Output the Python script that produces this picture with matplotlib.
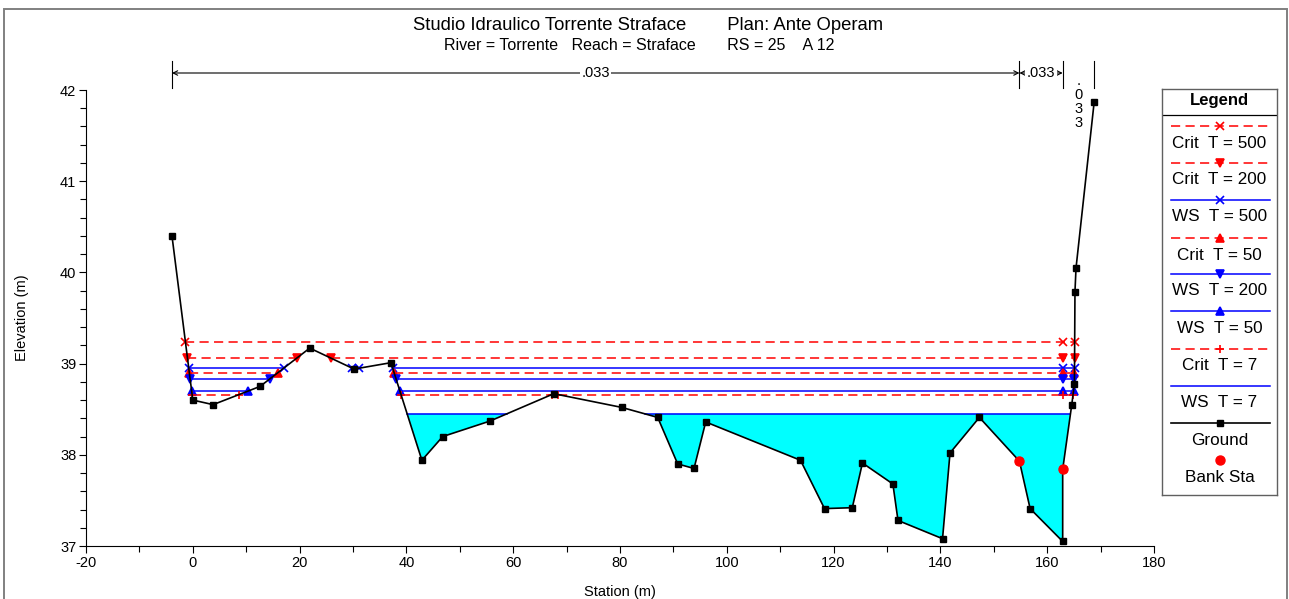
import matplotlib
matplotlib.use("Agg")
import matplotlib.pyplot as plt
from matplotlib.transforms import blended_transform_factory
from matplotlib.patches import Rectangle

# ---------------- data ----------------
station = [-3.9, 0.0, 3.8, 12.6, 21.9, 30.2, 37.1, 42.9, 46.8, 55.65, 67.6, 80.3,
           87.06, 90.8, 93.86, 96.05, 113.8, 118.3, 123.5, 125.4, 131.1, 132.06,
           140.4, 141.8, 147.3, 154.8, 156.8, 162.9, 162.9, 164.6, 165.1, 165.2,
           165.4, 168.8]
elevation = [40.40, 38.60, 38.55, 38.75, 39.17, 38.94, 39.01, 37.94, 38.20, 38.37,
             38.67, 38.52, 38.41, 37.90, 37.85, 38.36, 37.94, 37.41, 37.42, 37.91,
             37.68, 37.28, 37.08, 38.02, 38.41, 37.93, 37.41, 37.05, 37.84, 38.55,
             38.78, 39.79, 40.05, 41.87]
bank_station = [154.8, 162.9]
bank_elevation = [37.93, 37.84]

profile_names = ["Crit  T = 500", "Crit  T = 200", "WS  T = 500", "Crit  T = 50",
                 "WS  T = 200", "WS  T = 50", "Crit  T = 7", "WS  T = 7"]
profile_levels = [39.24, 39.06, 38.95, 38.90, 38.83, 38.70, 38.66, 38.45]

n_stations = [-3.9, 154.8, 162.9, 168.8]
n_values = [".033", ".033", ".033"]

title_text = "Studio Idraulico Torrente Straface        Plan: Ante Operam"
subtitle_text = "River = Torrente   Reach = Straface       RS = 25    A 12"

# ---------------- styles ----------------
RED, BLUE = "#ff0000", "#0000ff"
prof_color = [RED, RED, BLUE, RED, BLUE, BLUE, RED, BLUE]
prof_dashed = [True, True, False, True, False, False, True, False]
prof_marker = ["x", "v", "x", "^", "v", "^", "+", None]

FONT = "Liberation Sans"
plt.rcParams["font.family"] = [FONT, "DejaVu Sans"]
plt.rcParams["axes.unicode_minus"] = False

W, H = 1289, 599
fig = plt.figure(figsize=(W / 100, H / 100), dpi=100)
fig.patch.set_facecolor("white")


def fx(px):
    return px / W


def fy(py):
    return 1 - py / H


ax = fig.add_axes([fx(86), fy(546), fx(1154) - fx(86), fy(90) - fy(546)])
ax.set_xlim(-20, 180)
ax.set_ylim(37, 42)


def wet_spans(xs, ys, level):
    spans = []
    start = None
    for i in range(len(xs) - 1):
        x0, y0, x1, y1 = xs[i], ys[i], xs[i + 1], ys[i + 1]
        if y0 >= level and y1 < level:
            start = x0 + (level - y0) / (y1 - y0) * (x1 - x0)
        elif y0 < level and y1 >= level:
            end = x0 + (level - y0) / (y1 - y0) * (x1 - x0)
            spans.append((start, end))
            start = None
    return spans


# water fill for the lowest WS profile
ws_low = profile_levels[-1]
ax.fill_between(station, elevation, ws_low,
                where=[e < ws_low for e in elevation], interpolate=True,
                color="#00ffff", lw=0, zorder=1)

dash = (0, (6.0, 3.5))
for name, lev, col, dsh, mk in zip(profile_names, profile_levels, prof_color,
                                   prof_dashed, prof_marker):
    spans = wet_spans(station, elevation, lev)
    for s, e in spans:
        ax.plot([s, e], [lev, lev], color=col, lw=1.1,
                ls=dash if dsh else "-", zorder=3 if dsh else 2)
        if mk is not None:
            mx = [s, e] + [b for b in bank_station[1:] if s < b < e]
            ax.plot(mx, [lev] * len(mx), ls="none", marker=mk, color=col,
                    ms=5.5, mew=1.2, zorder=4)

ax.plot(station, elevation, color="black", lw=1.2, marker="s", ms=5,
        zorder=5)
ax.plot(bank_station, bank_elevation, ls="none", marker="o", color=RED,
        ms=6.5, zorder=6)

# axes style
for sp in ["top", "right"]:
    ax.spines[sp].set_visible(False)
ax.set_xticks(range(-20, 181, 20))
ax.set_xticks(range(-20, 181, 10), minor=True)
ax.set_yticks(range(37, 43))
ax.set_yticks([37 + 0.2 * i for i in range(26)], minor=True)
ax.tick_params(which="major", direction="out", length=5, width=0.8,
               labelsize=10.5, pad=2)
ax.tick_params(which="minor", direction="out", length=4, width=0.8)
ax.set_xlabel("Station (m)", fontsize=10.5, labelpad=11)
ax.set_ylabel("Elevation (m)", fontsize=10.5, labelpad=22)

# Manning's n annotations above plot
tr = blended_transform_factory(ax.transData, ax.transAxes)
y_top = (546 - 61) / 456
y_bot = (546 - 88) / 456
y_arr = (546 - 73) / 456
for xs in n_stations:
    ax.plot([xs, xs], [y_bot, y_top], transform=tr, color="black", lw=0.8,
            clip_on=False)
for i, val in enumerate(n_values):
    a, b = n_stations[i], n_stations[i + 1]
    mid = (a + b) / 2
    if b - a > 7:
        ax.annotate("", xy=(b, y_arr), xytext=(a, y_arr), xycoords=tr,
                    textcoords=tr,
                    arrowprops=dict(arrowstyle="<->", lw=0.8, color="black",
                                    shrinkA=0, shrinkB=0,
                                    mutation_scale=8))
        ax.text(mid, y_arr, val, transform=tr, ha="center", va="center",
                fontsize=10.5, bbox=dict(boxstyle="square,pad=0.1", fc="white",
                                         ec="none"), clip_on=False)
    else:
        ax.text(mid, (546 - 74) / 456, "\n".join(val), transform=tr,
                ha="center", va="top", fontsize=10.5, linespacing=1.0,
                clip_on=False)

# titles
fig.text(fx(648), fy(26), title_text, ha="center", va="center", fontsize=13.3)
fig.text(fx(639), fy(46), subtitle_text, ha="center", va="center", fontsize=11.5)

# ---------------- legend ----------------
lax = fig.add_axes([fx(1162), fy(495), fx(1277) - fx(1162), fy(89) - fy(495)])
lax.set_xlim(0, 115)
lax.set_ylim(406, 0)
lax.set_xticks([])
lax.set_yticks([])
for sp in lax.spines.values():
    sp.set_color("#606060")
    sp.set_linewidth(1.0)
lax.text(57.5, 11, "Legend", ha="center", va="center", fontsize=12,
         fontweight="bold")
lax.plot([0, 115], [26, 26], color="black", lw=0.9)
line_y = [36.7, 73.7, 111, 149.3, 185.3, 221.7, 260.3, 297]
text_y = [54, 91, 127.7, 166, 201.7, 239.3, 277, 313.7]
for name, col, dsh, mk, ly, ty in zip(profile_names, prof_color, prof_dashed,
                                      prof_marker, line_y, text_y):
    lax.plot([9, 108], [ly, ly], color=col, lw=1.1, ls=dash if dsh else "-")
    if mk is not None:
        lax.plot([58], [ly], marker=mk, color=col, ms=5.5, mew=1.2)
    lax.text(57.5, ty, name, ha="center", va="center", fontsize=12.3)
lax.plot([9, 108], [334.3, 334.3], color="black", lw=1.2)
lax.plot([58], [334.3], marker="s", color="black", ms=5)
lax.text(57.5, 351.7, "Ground", ha="center", va="center", fontsize=12.3)
lax.plot([58], [371], marker="o", color=RED, ms=6.5)
lax.text(57.5, 388.3, "Bank Sta", ha="center", va="center", fontsize=12.3)

# outer frame
fig.patches.append(Rectangle((fx(4), -0.02), fx(1286.5) - fx(4), fy(9) + 0.02,
                             transform=fig.transFigure, fill=False,
                             edgecolor="#808080", lw=1.4))

fig.savefig("out.png", dpi=100)
